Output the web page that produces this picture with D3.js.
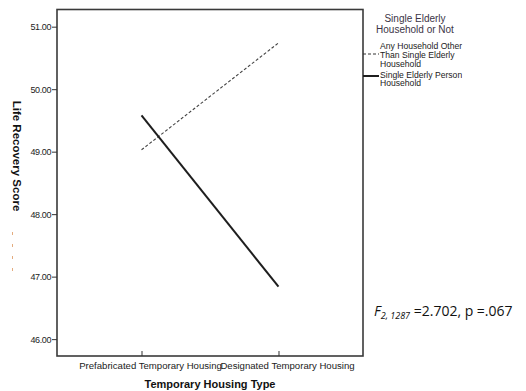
<!DOCTYPE html>
<html>
<head>
<meta charset="utf-8">
<script src="https://cdn.jsdelivr.net/npm/d3@7"></script>
<style>
  html, body { margin: 0; padding: 0; background: #fff; }
  svg { display: block; }
</style>
</head>
<body>
<svg id="chart" width="526" height="391"></svg>
<script>
// Estimated marginal means of life recovery score
const housingTypes = ["Prefabricated Temporary Housing", "Designated Temporary Housing"];
const otherHousehold = [49.03, 50.74];     // Any household other than single elderly
const singleElderly = [49.58, 46.84];      // Single elderly person household
const yTicks = [46, 47, 48, 49, 50, 51];
const legendTitle = ["Single Elderly", "Household or Not"];
const legendOther = ["Any Household Other", "Than Single Elderly", "Household"];
const legendSingle = ["Single Elderly Person", "Household"];

const svg = d3.select("#chart");
const font = "Liberation Sans, Arial, sans-serif";

const plot = { left: 57, right: 363, top: 9.5, bottom: 356 };

const x = d3.scalePoint()
  .domain(housingTypes)
  .range([plot.left, plot.right])
  .padding(0.617);

const y = d3.scaleLinear()
  .domain([45.73, 51.275])
  .range([plot.bottom, plot.top]);

// Plot frame
svg.append("rect")
  .attr("x", plot.left).attr("y", plot.top)
  .attr("width", plot.right - plot.left)
  .attr("height", plot.bottom - plot.top)
  .attr("fill", "none")
  .attr("stroke", "#3a3a3a")
  .attr("stroke-width", 1.6);

// Y axis
const yAxis = svg.append("g")
  .attr("transform", `translate(${plot.left},0)`)
  .call(d3.axisLeft(y).tickValues(yTicks).tickFormat(d3.format(".2f")).tickSize(5).tickPadding(1));
yAxis.select(".domain").remove();
yAxis.selectAll("line").attr("stroke", "#333").attr("stroke-width", 1);
yAxis.selectAll("text")
  .attr("font-family", font).attr("font-size", 9)
  .attr("letter-spacing", -0.4)
  .attr("fill", "#222");

// X axis
const xAxis = svg.append("g")
  .attr("transform", `translate(0,${plot.bottom})`)
  .call(d3.axisBottom(x).tickSize(-5).tickPadding(6));
xAxis.select(".domain").remove();
xAxis.selectAll("line").attr("stroke", "#333").attr("stroke-width", 1);
xAxis.selectAll("text")
  .attr("font-family", font).attr("font-size", 9.6)
  .attr("dx", 8.5)
  .attr("fill", "#222");

// Axis titles
svg.append("text")
  .attr("x", 210).attr("y", 388)
  .attr("text-anchor", "middle")
  .attr("font-family", font).attr("font-size", 11).attr("font-weight", "bold")
  .attr("fill", "#111")
  .text("Temporary Housing Type");

svg.append("text")
  .attr("transform", "translate(13,156) rotate(90)")
  .attr("text-anchor", "middle")
  .attr("font-family", font).attr("font-size", 11.5).attr("font-weight", "bold")
  .attr("fill", "#111")
  .text("Life Recovery Score");

// Faint marks left of the axis
svg.append("line")
  .attr("x1", 12.5).attr("x2", 12.5).attr("y1", 232).attr("y2", 275)
  .attr("stroke", "#d98a4a").attr("stroke-width", 1)
  .attr("stroke-dasharray", "3,9").attr("opacity", 0.7);

// Series lines
const line = d3.line()
  .x((d, i) => x(housingTypes[i]))
  .y(d => y(d));

svg.append("path")
  .datum(otherHousehold)
  .attr("d", line)
  .attr("fill", "none")
  .attr("stroke", "#444")
  .attr("stroke-width", 1.1)
  .attr("stroke-dasharray", "3,2");

svg.append("path")
  .datum(singleElderly)
  .attr("d", line)
  .attr("fill", "none")
  .attr("stroke", "#1e1e1e")
  .attr("stroke-width", 2);

// Legend
const legend = svg.append("g");
legend.append("defs").append("clipPath").attr("id", "legclip")
  .append("rect").attr("x", 360).attr("y", 0).attr("width", 102.5).attr("height", 100);

legend.selectAll("text.title")
  .data(legendTitle)
  .join("text")
  .attr("class", "title")
  .attr("x", 415).attr("y", (d, i) => 22 + i * 11)
  .attr("text-anchor", "middle")
  .attr("font-family", font).attr("font-size", 10)
  .attr("fill", "#3b3446")
  .text(d => d);

legend.append("line")
  .attr("x1", plot.right).attr("x2", 379).attr("y1", 54).attr("y2", 54)
  .attr("stroke", "#333").attr("stroke-width", 1).attr("stroke-dasharray", "3,2");
legend.append("line")
  .attr("x1", plot.right).attr("x2", 379).attr("y1", 76).attr("y2", 76)
  .attr("stroke", "#1e1e1e").attr("stroke-width", 2);

const items = legend.append("g").attr("clip-path", "url(#legclip)");
items.selectAll("text.other")
  .data(legendOther)
  .join("text")
  .attr("class", "other")
  .attr("x", 380).attr("y", (d, i) => 49 + i * 8.8)
  .attr("font-family", font).attr("font-size", 8.6)
  .attr("fill", "#222")
  .text(d => d);
items.selectAll("text.single")
  .data(legendSingle)
  .join("text")
  .attr("class", "single")
  .attr("x", 380).attr("y", (d, i) => 77.5 + i * 8.8)
  .attr("font-family", font).attr("font-size", 8.6)
  .attr("fill", "#222")
  .text(d => d);

// Test statistic
const stat = svg.append("text")
  .attr("x", 374).attr("y", 316)
  .attr("font-family", "Open Sans, Liberation Sans, sans-serif").attr("font-size", 14)
  .attr("fill", "#111");
stat.append("tspan").attr("font-style", "italic").text("F");
stat.append("tspan").attr("font-style", "italic").attr("font-size", 9).attr("dy", 3).text("2, 1287");
stat.append("tspan").attr("dy", -3).text(" =2.702, p =.067");
</script>
</body>
</html>
